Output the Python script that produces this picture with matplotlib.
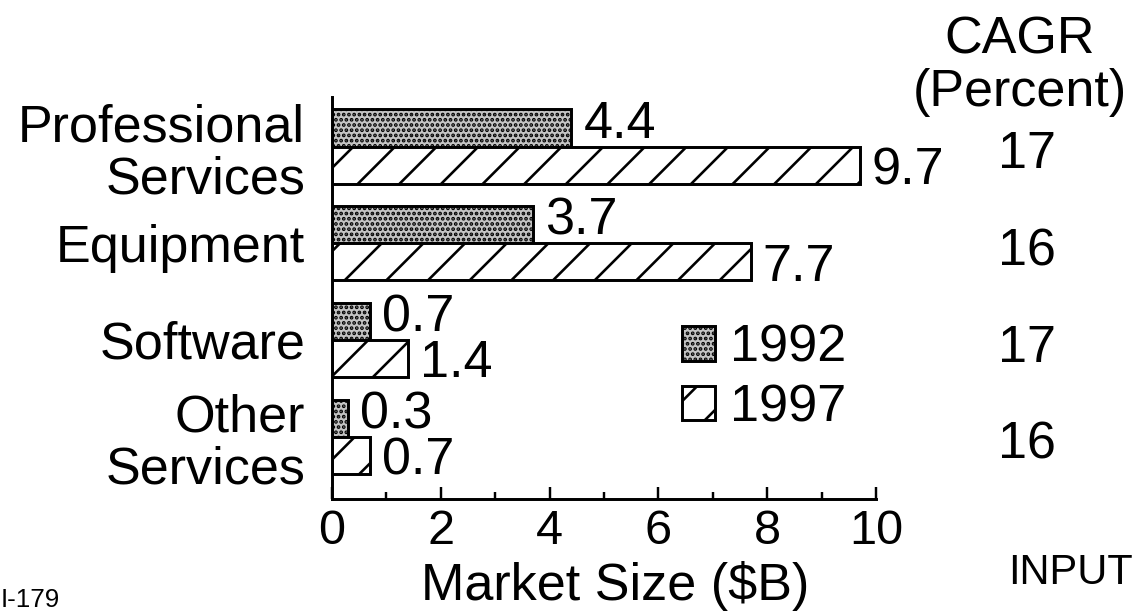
import matplotlib
matplotlib.use("Agg")
import matplotlib.pyplot as plt
import numpy as np

plt.rcParams["font.family"] = ["Liberation Sans", "DejaVu Sans"]
plt.rcParams["hatch.linewidth"] = 1.5

# ── Data ──────────────────────────────────────────────────────────────────────
CATEGORIES = ["Professional\nServices", "Equipment", "Software", "Other\nServices"]
SIZE_1992 = [4.4, 3.7, 0.7, 0.3]     # $B
SIZE_1997 = [9.7, 7.7, 1.4, 0.7]     # $B
CAGR_PCT = [17, 16, 17, 16]
YEARS = ["1992", "1997"]

# ── Layout (pixel grid of the output image) ───────────────────────────────────
W, H, DPI = 1134, 616, 125
FS = 30


def fx(x):
    return x / W


def fy(y):
    return 1 - y / H


fig = plt.figure(figsize=(W / DPI, H / DPI), dpi=DPI)
ax = fig.add_axes([fx(332), fy(499), (876 - 332) / W, (499 - 97) / H])

y = np.arange(len(CATEGORIES))
bh = 0.383

# 1992: stippled grey, 1997: diagonal hatch
b92 = ax.barh(y - bh / 2, SIZE_1992, height=bh, facecolor="#c4c4c4",
              edgecolor="black", linewidth=1.7, hatch="....", label=YEARS[0])
b97 = ax.barh(y + bh / 2, SIZE_1997, height=bh, facecolor="white",
              edgecolor="black", linewidth=1.7, hatch="/", label=YEARS[1])

ax.set_xlim(0, 10)
ax.set_ylim(3.645, -0.512)

for side in ("top", "right"):
    ax.spines[side].set_visible(False)
for side in ("left", "bottom"):
    ax.spines[side].set_linewidth(1.7)

ax.set_xticks(range(0, 11, 2))
ax.set_xticks(range(1, 10, 2), minor=True)
ax.tick_params(axis="x", which="major", direction="in", length=7, width=1.4,
               labelsize=28, pad=6)
ax.tick_params(axis="x", which="minor", direction="in", length=4, width=1.4)

ax.set_yticks(y, CATEGORIES)
ax.tick_params(axis="y", length=0, labelsize=FS, pad=15.5)
for t in ax.get_yticklabels():
    t.set_linespacing(1.1)

ax.set_xlabel(r"Market Size (\$B)", fontsize=FS)
ax.xaxis.set_label_coords((615 - 332) / 544, -(600 - 499) / 402)
ax.xaxis.label.set_verticalalignment("baseline")

# value labels at the bar ends
for yi, v in zip(y, SIZE_1992):
    ax.text(v + 0.22, yi - bh / 2 - 0.09, f"{v:.1f}", ha="left",
            va="center_baseline", fontsize=FS, clip_on=False)
for yi, v in zip(y, SIZE_1997):
    ax.text(v + 0.22, yi + bh / 2, f"{v:.1f}", ha="left",
            va="center_baseline", fontsize=FS, clip_on=False)

# growth-rate column
for yi, c in zip(y, CAGR_PCT):
    ax.text(12.78, yi + 0.03, str(c), ha="center", va="center_baseline",
            fontsize=FS, clip_on=False)
fig.text(fx(1020), fy(54), "CAGR", ha="center", va="baseline", fontsize=FS)
fig.text(fx(1020), fy(106), "(Percent)", ha="center", va="baseline", fontsize=FS)

ax.legend(handles=[b92, b97], loc="center left", bbox_to_anchor=(0.643, 0.301),
          frameon=False, fontsize=FS, handlelength=0.63, handleheight=0.63,
          handletextpad=0.3, labelspacing=0.2, borderpad=0, borderaxespad=0)

fig.text(fx(1), fy(607), "I-179", ha="left", va="baseline", fontsize=15)
fig.text(fx(1133), fy(584), "INPUT", ha="right", va="baseline", fontsize=24)

fig.savefig("out.png", dpi=DPI)
